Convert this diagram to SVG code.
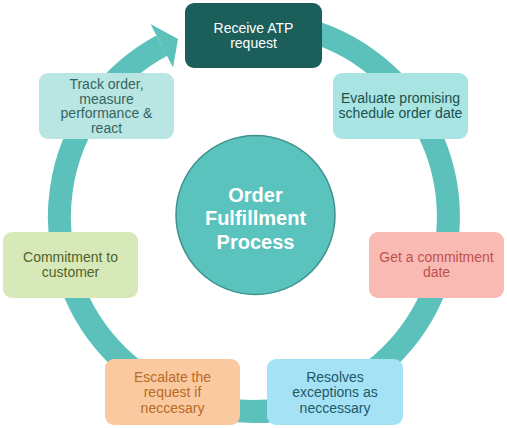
<svg xmlns="http://www.w3.org/2000/svg" width="507" height="428" viewBox="0 0 507 428">
<style>
  .box text { font-family: "Liberation Sans", Arial, sans-serif; font-size: 14px; text-anchor: middle; }
  .ring { fill: none; stroke: #5cc1bb; stroke-width: 23; }
  .hub text { font-family: "Liberation Sans", Arial, sans-serif; font-size: 20px; font-weight: bold; fill: #ffffff; text-anchor: middle; }
</style>
<rect width="507" height="428" fill="#ffffff"/>
<g id="connectors">
  <path class="ring" d="M 287.8 25.5 A 194.5 194.5 0 1 1 161.8 45.7"/>
  <polygon points="150.5,24 178,39 173,67.5" fill="#5cc1bb"/>
</g>
<g id="hub" class="hub">
  <circle cx="255.5" cy="215" r="79.5" fill="#5bc3bd" stroke="#3e918c" stroke-width="1.5"/>
  <text x="255.5" y="202">Order</text>
  <text x="255.5" y="225">Fulfillment</text>
  <text x="255.5" y="249">Process</text>
</g>
<g id="receive" class="box">
  <rect x="185" y="3" width="137" height="65" rx="9" fill="#1b5e5a"/>
  <text x="253.5" y="33" fill="#ffffff">Receive ATP</text>
  <text x="253.5" y="48" fill="#ffffff">request</text>
</g>
<g id="evaluate" class="box">
  <rect x="333" y="73" width="135" height="66" rx="9" fill="#a7e4e2"/>
  <text x="400.5" y="103" fill="#1d4f4d">Evaluate promising</text>
  <text x="400.5" y="118" fill="#1d4f4d">schedule order date</text>
</g>
<g id="commitment-date" class="box">
  <rect x="369" y="232" width="135" height="66" rx="9" fill="#f8bab3"/>
  <text x="436.5" y="262" fill="#c0504d">Get a commitment</text>
  <text x="436.5" y="277" fill="#c0504d">date</text>
</g>
<g id="resolves" class="box">
  <rect x="267" y="359" width="136" height="66" rx="9" fill="#a6e2f5"/>
  <text x="335" y="382" fill="#215868">Resolves</text>
  <text x="335" y="397" fill="#215868">exceptions as</text>
  <text x="335" y="413" fill="#215868">neccessary</text>
</g>
<g id="escalate" class="box">
  <rect x="105" y="359" width="135" height="66" rx="9" fill="#fac99f"/>
  <text x="172.5" y="382" fill="#b96a25">Escalate the</text>
  <text x="172.5" y="397" fill="#b96a25">request if</text>
  <text x="172.5" y="413" fill="#b96a25">neccesary</text>
</g>
<g id="commitment-customer" class="box">
  <rect x="3" y="232" width="135" height="66" rx="9" fill="#d7e9b9"/>
  <text x="70.5" y="262" fill="#4f6228">Commitment to</text>
  <text x="70.5" y="277" fill="#4f6228">customer</text>
</g>
<g id="track" class="box">
  <rect x="39" y="73" width="135" height="66" rx="9" fill="#b9e5e2"/>
  <text x="106.5" y="89" fill="#356563">Track order,</text>
  <text x="106.5" y="103.7" fill="#356563">measure</text>
  <text x="106.5" y="118.4" fill="#356563">performance &amp;</text>
  <text x="106.5" y="133" fill="#356563">react</text>
</g>
</svg>
